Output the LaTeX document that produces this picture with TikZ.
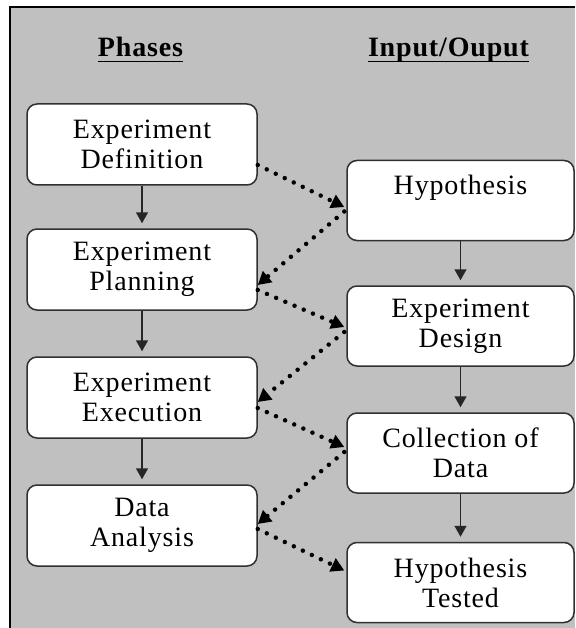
\documentclass[tikz,border=0pt]{standalone}
\usepackage{fontspec}
\usetikzlibrary{arrows.meta}
\newfontfamily\diagfont{Liberation Serif}[LetterSpace=3]
\definecolor{panelgray}{HTML}{C0C0C0}
\definecolor{boxline}{HTML}{303030}

\tikzset{
  phasebox/.style={draw=boxline, line width=1.5pt, fill=white,
    rounded corners=10pt, minimum width=230pt, minimum height=81pt,
    inner sep=0pt, align=center,
    font=\diagfont\fontsize{28}{30}\selectfont},
  iobox/.style={phasebox, minimum width=227pt, minimum height=80pt},
  heading/.style={inner sep=0pt, anchor=base,
    font=\diagfont\bfseries\fontsize{28}{30}\selectfont},
  flow/.style={draw=black!85, line width=1.5pt,
    -{Triangle[length=11pt,width=12pt]}, shorten >=5pt},
  link/.style={draw=black, line width=4.5pt, line cap=round,
    dash pattern=on 0pt off 10pt,
    -{Triangle[length=13pt,width=14pt]}}
}

\begin{document}
\begin{tikzpicture}[x=1pt, y=-1pt]
  \useasboundingbox (0,0) rectangle (575,628);
  % panel
  \fill[white] (0,0) rectangle (575,628);
  \fill[panelgray] (10,7) rectangle (575,628);
  \draw[line width=2pt] (10,628) -- (10,7) -- (575,7);

  % column headings
  \node[heading] (ph) at (140.5,57) {Phases};
  \node[heading] (io) at (448.5,57) {Input/Ouput};
  \draw[line width=1.5pt] ([yshift=-4.5pt]ph.base west) -- ([yshift=-4.5pt]ph.base east);
  \draw[line width=1.5pt] ([yshift=-4.5pt]io.base west) -- ([yshift=-4.5pt]io.base east);

  % phases
  \node[phasebox] (L1) at (142,144.5) {Experiment\\Definition};
  \node[phasebox] (L2) at (142,269.5) {Experiment\\Planning};
  \node[phasebox] (L3) at (142,397.5) {Experiment\\Execution};
  \node[phasebox] (L4) at (142,525.5) {Data\\Analysis};

  % inputs / outputs
  \node[iobox] (R1) at (460.5,200.5) {Hypothesis\\[2pt]~};
  \node[iobox] (R2) at (460.5,326) {Experiment\\Design};
  \node[iobox] (R3) at (460.5,453) {Collection of\\Data};
  \node[iobox] (R4) at (460.5,582.5) {Hypothesis\\Tested};

  % sequence arrows
  \draw[flow] (L1) -- (L2);
  \draw[flow] (L2) -- (L3);
  \draw[flow] (L3) -- (L4);
  \draw[flow] (R1) -- (R2);
  \draw[flow] (R2) -- (R3);
  \draw[flow] (R3) -- (R4);

  % dotted exchanges between phases and artefacts
  \draw[link] ([yshift=-20.5pt]L1.east) -- ([xshift=-2pt,yshift=-6.5pt]R1.west);
  \draw[link] ([xshift=-2pt,yshift=-11pt]R1.west) -- ([yshift=-15.5pt]L2.east);
  \draw[link] ([yshift=-20.5pt]L2.east) -- ([xshift=-2pt,yshift=-1pt]R2.west);
  \draw[link] ([xshift=-2pt,yshift=-6pt]R2.west) -- ([yshift=-4.5pt]L3.east);
  \draw[link] ([yshift=-10.5pt]L3.east) -- ([xshift=-2pt,yshift=6pt]R3.west);
  \draw[link] ([xshift=-2pt,yshift=1pt]R3.west) -- ([yshift=1.5pt]L4.east);
  \draw[link] ([yshift=-3.5pt]L4.east) -- ([xshift=-2pt,yshift=12pt]R4.west);
\end{tikzpicture}
\end{document}
